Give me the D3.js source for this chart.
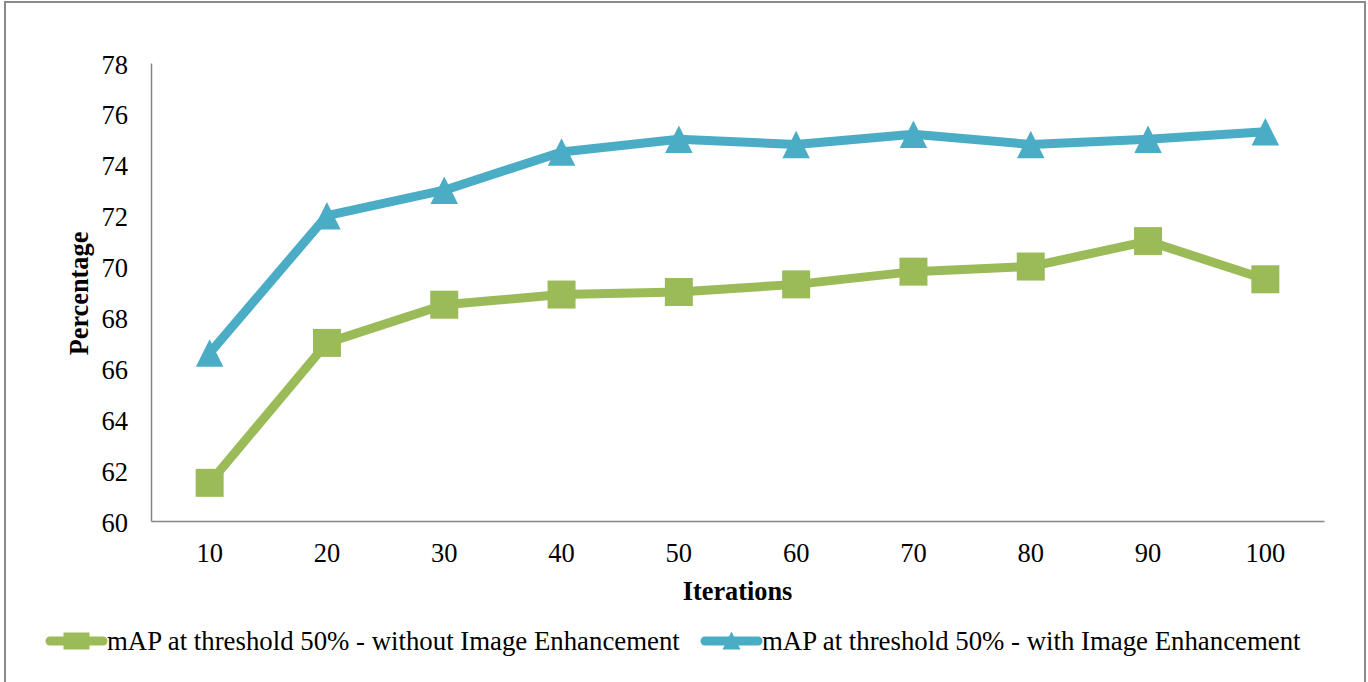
<!DOCTYPE html>
<html>
<head>
<meta charset="utf-8">
<script src="https://cdn.jsdelivr.net/npm/d3@7"></script>
<style>
  html, body { margin: 0; padding: 0; background: #fff; }
  svg { display: block; }
  text { font-family: "Liberation Serif", "Times New Roman", serif; fill: #000; }
</style>
</head>
<body>
<svg id="chart" width="1368" height="682"></svg>
<script>
// Iteration counts on the x axis
const iterations = [10, 20, 30, 40, 50, 60, 70, 80, 90, 100];
// mAP@50 (%) per iteration count
const withoutEnhancement = [61.5, 67.0, 68.5, 68.9, 69.0, 69.3, 69.8, 70.0, 71.0, 69.5];
const withEnhancement    = [66.6, 72.0, 73.0, 74.5, 75.0, 74.8, 75.2, 74.8, 75.0, 75.3];
const yTicks = [60, 62, 64, 66, 68, 70, 72, 74, 76, 78];
const seriesNames = [
  "mAP at threshold 50% - without Image Enhancement",
  "mAP at threshold 50% - with Image Enhancement"
];

const green = "#9BBB59";
const blue = "#4BACC6";

const svg = d3.select("#chart");

// outer frame
svg.append("rect")
  .attr("x", 5).attr("y", 2).attr("width", 1360).attr("height", 700)
  .attr("fill", "none").attr("stroke", "#8a8a8a").attr("stroke-width", 2);

const plot = { left: 151, right: 1324, top: 63, bottom: 521 };

const x = d3.scaleBand()
  .domain(iterations)
  .range([plot.left, plot.right]);

const y = d3.scaleLinear()
  .domain([60, 78])
  .range([plot.bottom, plot.top]);

const cx = d => x(d) + x.bandwidth() / 2;

// y axis
const yAxis = svg.append("g")
  .attr("transform", `translate(${plot.left},0)`)
  .call(d3.axisLeft(y).tickValues(yTicks).tickSize(0).tickPadding(23));
yAxis.select(".domain").attr("stroke", "#868686").attr("stroke-width", 1.5);
yAxis.selectAll("text")
  .attr("font-size", 26.5).attr("font-family", "Liberation Serif").attr("fill", "#000")
  .attr("dy", "0.38em");

// x axis
const xAxis = svg.append("g")
  .attr("transform", `translate(0,${plot.bottom})`)
  .call(d3.axisBottom(x).tickSize(0).tickPadding(22));
xAxis.select(".domain").attr("stroke", "#868686").attr("stroke-width", 1.5);
xAxis.selectAll("text")
  .attr("font-size", 26.5).attr("font-family", "Liberation Serif").attr("fill", "#000")
  .attr("dy", "0.71em");

// axis titles
svg.append("text")
  .attr("x", (plot.left + plot.right) / 2).attr("y", 600)
  .attr("text-anchor", "middle")
  .attr("font-size", 26.3).attr("font-weight", "bold")
  .text("Iterations");

svg.append("text")
  .attr("transform", "translate(88,293.5) rotate(-90)")
  .attr("text-anchor", "middle")
  .attr("font-size", 26.3).attr("font-weight", "bold")
  .text("Percentage");

const line = d3.line()
  .x((d, i) => cx(iterations[i]))
  .y(d => y(d));

const triangle = s => `M0,${-s / 2}L${s / 2},${s / 2}L${-s / 2},${s / 2}Z`;

// series without enhancement: green squares
svg.append("path")
  .datum(withoutEnhancement)
  .attr("d", line)
  .attr("fill", "none").attr("stroke", green)
  .attr("stroke-width", 9).attr("stroke-linejoin", "round");

svg.append("g").selectAll("rect")
  .data(withoutEnhancement)
  .join("rect")
  .attr("x", (d, i) => cx(iterations[i]) - 14)
  .attr("y", d => y(d) - 14)
  .attr("width", 28).attr("height", 28)
  .attr("fill", green);

// series with enhancement: blue triangles
svg.append("path")
  .datum(withEnhancement)
  .attr("d", line)
  .attr("fill", "none").attr("stroke", blue)
  .attr("stroke-width", 9).attr("stroke-linejoin", "round");

svg.append("g").selectAll("path")
  .data(withEnhancement)
  .join("path")
  .attr("transform", (d, i) => `translate(${cx(iterations[i])},${y(d)})`)
  .attr("d", triangle(27.5))
  .attr("fill", blue);

// legend
const legendY = 641;
const legend = [
  { name: seriesNames[0], color: green, x0: 50, x1: 103, marker: "square", tx: 107 },
  { name: seriesNames[1], color: blue, x0: 705, x1: 758, marker: "triangle", tx: 762 }
];
legend.forEach(l => {
  const g = svg.append("g");
  g.append("line")
    .attr("x1", l.x0).attr("x2", l.x1)
    .attr("y1", legendY).attr("y2", legendY)
    .attr("stroke", l.color).attr("stroke-width", 9).attr("stroke-linecap", "round");
  const mx = (l.x0 + l.x1) / 2;
  if (l.marker === "square") {
    g.append("rect")
      .attr("x", mx - 13).attr("y", legendY - 8.5)
      .attr("width", 26).attr("height", 17)
      .attr("fill", l.color);
  } else {
    g.append("path")
      .attr("transform", `translate(${mx},${legendY - 0.5})`)
      .attr("d", triangle(18))
      .attr("fill", l.color);
  }
  g.append("text")
    .attr("x", l.tx).attr("y", legendY + 9)
    .attr("font-size", 26.8)
    .text(l.name);
});
</script>
</body>
</html>
